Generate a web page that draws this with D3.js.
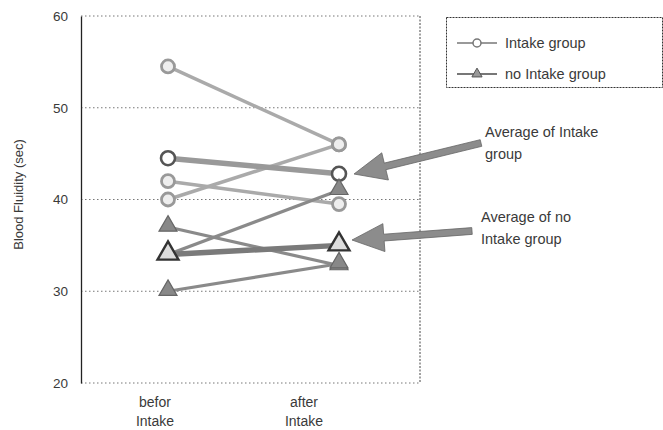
<!DOCTYPE html>
<html><head><meta charset="utf-8">
<script src="https://cdn.jsdelivr.net/npm/d3@7"></script>
<style>body{margin:0;background:#fff}svg{display:block}text{font-family:"Liberation Sans",Arial,sans-serif;fill:#3a3a3a}</style>
</head><body><svg id="c" width="663" height="430"></svg>
<script>
const categories = ["befor Intake", "after Intake"];
const intakeSeries = [[54.5, 46], [42, 39.5], [40, 46]];
const intakeAverage = [44.5, 42.8];
const noIntakeSeries = [[37, 32.8], [34, 41], [30, 33]];
const noIntakeAverage = [34, 35];
const yTicks = [20, 30, 40, 50, 60];
const legendLabels = ["Intake group", "no Intake group"];
const annotations = [["Average of Intake", "group"], ["Average of no", "Intake group"]];

const svg = d3.select("#c");
const L = 81, R = 420, T = 16, B = 383;
const y = d3.scaleLinear().domain([20, 60]).range([B, T]);
const x = d3.scalePoint().domain(categories).range([168, 339]);
const xl = d3.scalePoint().domain(categories).range([155, 304]);

// gridlines
svg.append("g").selectAll("line").data(yTicks).join("line")
  .attr("x1", L).attr("x2", R).attr("y1", d => y(d)).attr("y2", d => y(d))
  .attr("stroke", "#777").attr("stroke-width", 1).attr("stroke-dasharray", "1.5,2.5");
svg.append("line").attr("x1", R).attr("x2", R).attr("y1", T).attr("y2", B)
  .attr("stroke", "#444").attr("stroke-width", 1).attr("stroke-dasharray", "2,1.5");

// y axis
const yAxis = d3.axisLeft(y).tickValues(yTicks).tickSize(0).tickPadding(13);
const ga = svg.append("g").attr("transform", `translate(${L},0)`).call(yAxis);
ga.select(".domain").attr("stroke", "#222").attr("stroke-width", 1.3);
ga.selectAll("text").style("font-size", "13.5px").attr("fill", "#3a3a3a")
  .style("font-family", "'Liberation Sans',Arial,sans-serif");

svg.append("text").attr("transform", `translate(23,${(T + B) / 2 - 5}) rotate(-90)`)
  .attr("text-anchor", "middle").style("font-size", "13px").text("Blood Fluidity (sec)");

// x labels
categories.forEach(c => {
  const parts = c.split(" ");
  parts.forEach((p, i) => {
    svg.append("text").attr("x", xl(c)).attr("y", 407 + i * 19).attr("text-anchor", "middle")
      .style("font-size", "14px").text(p);
  });
});

const line = d3.line().x((d, i) => x(categories[i])).y(d => y(d));
const tri = d3.symbol().type(d3.symbolTriangle).size(140);
const triBig = d3.symbol().type(d3.symbolTriangle).size(190);

// intake individual lines
intakeSeries.forEach(s => {
  svg.append("path").attr("d", line(s)).attr("fill", "none")
    .attr("stroke", "#aaa").attr("stroke-width", 3.5);
});
svg.append("path").attr("d", line(intakeAverage)).attr("fill", "none")
  .attr("stroke", "#999").attr("stroke-width", 5.5);
// no intake lines
noIntakeSeries.forEach(s => {
  svg.append("path").attr("d", line(s)).attr("fill", "none")
    .attr("stroke", "#8a8a8a").attr("stroke-width", 3.2);
});
svg.append("path").attr("d", line(noIntakeAverage)).attr("fill", "none")
  .attr("stroke", "#7a7a7a").attr("stroke-width", 5.5);

// markers
intakeSeries.forEach(s => s.forEach((v, i) => {
  svg.append("circle").attr("cx", x(categories[i])).attr("cy", y(v)).attr("r", 6.5)
    .attr("fill", "#eee").attr("stroke", "#999").attr("stroke-width", 2.8);
}));
intakeAverage.forEach((v, i) => {
  svg.append("circle").attr("cx", x(categories[i])).attr("cy", y(v)).attr("r", 7)
    .attr("fill", "#fff").attr("stroke", "#555").attr("stroke-width", 2.6);
});
noIntakeSeries.forEach(s => s.forEach((v, i) => {
  svg.append("path").attr("d", tri).attr("transform", `translate(${x(categories[i])},${y(v) - 1})`)
    .attr("fill", "#888").attr("stroke", "#666").attr("stroke-width", 1.2);
}));
noIntakeAverage.forEach((v, i) => {
  svg.append("path").attr("d", triBig).attr("transform", `translate(${x(categories[i])},${y(v) - 1})`)
    .attr("fill", "#ddd").attr("stroke", "#333").attr("stroke-width", 2.4);
});

// legend
const lg = svg.append("g");
lg.append("rect").attr("x", 446.5).attr("y", 17.5).attr("width", 216).attr("height", 70)
  .attr("fill", "#fff").attr("stroke", "#333").attr("stroke-dasharray", "2,1");
legendLabels.forEach((t, i) => {
  const yy = 43 + i * 31;
  lg.append("line").attr("x1", 457).attr("x2", 497).attr("y1", yy).attr("y2", yy)
    .attr("stroke", i ? "#777" : "#999").attr("stroke-width", 2);
  if (i === 0) lg.append("circle").attr("cx", 477).attr("cy", yy).attr("r", 4)
    .attr("fill", "#fff").attr("stroke", "#777").attr("stroke-width", 1.5);
  else lg.append("path").attr("d", d3.symbol().type(d3.symbolTriangle).size(45))
    .attr("transform", `translate(477,${yy})`).attr("fill", "#999").attr("stroke", "#555");
  lg.append("text").attr("x", 505).attr("y", yy + 5).style("font-size", "14.5px").text(t);
});

// annotations with arrows
const arrows = [
  {tail: [481, 143], tip: [354, 174], tx: 485, ty: 137},
  {tail: [472, 231], tip: [352, 240], tx: 481, ty: 222}
];
arrows.forEach((a, k) => {
  const dx = a.tip[0] - a.tail[0], dy = a.tip[1] - a.tail[1];
  const len = Math.hypot(dx, dy), ux = dx / len, uy = dy / len;
  const hl = 32, hw = 14, sw = 3.4;
  const bx = a.tip[0] - ux * hl, by = a.tip[1] - uy * hl;
  const px = -uy, py = ux;
  const pts = [
    [a.tail[0] + px * sw, a.tail[1] + py * sw],
    [bx + px * sw, by + py * sw],
    [bx + px * hw, by + py * hw],
    a.tip,
    [bx - px * hw, by - py * hw],
    [bx - px * sw, by - py * sw],
    [a.tail[0] - px * sw, a.tail[1] - py * sw]
  ];
  svg.append("path").attr("d", d3.line()(pts) + "Z").attr("fill", "#8c8c8c")
    .attr("stroke", "#666").attr("stroke-width", 0.8);
  annotations[k].forEach((t, i) => {
    svg.append("text").attr("x", a.tx).attr("y", a.ty + i * 22).style("font-size", "14.5px").text(t);
  });
});
</script></body></html>
